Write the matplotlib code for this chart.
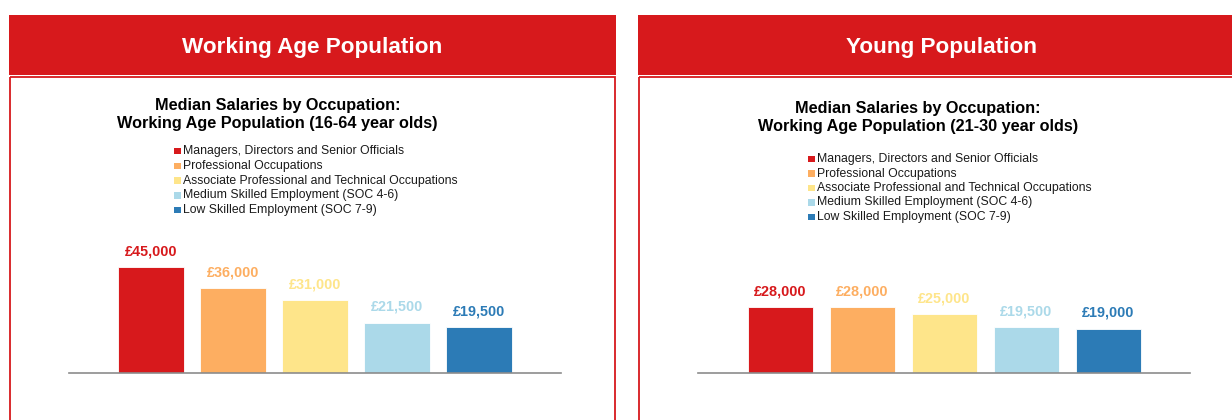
import matplotlib
matplotlib.use("Agg")
import matplotlib.pyplot as plt
from matplotlib.patches import Rectangle

plt.rcParams['font.family'] = ['Liberation Sans', 'DejaVu Sans']

# ---- data ----
categories = [
    "Managers, Directors and Senior Officials",
    "Professional Occupations",
    "Associate Professional and Technical Occupations",
    "Medium Skilled Employment (SOC 4-6)",
    "Low Skilled Employment (SOC 7-9)",
]
colors = ["#D7191C", "#FDAE61", "#FEE58A", "#ABD9E9", "#2C7BB6"]
working_age_values = [45000, 36000, 31000, 21500, 19500]
young_values = [28000, 28000, 25000, 19500, 19000]
panel_headers = ["Working Age Population", "Young Population"]
chart_titles = [
    "Median Salaries by Occupation:\nWorking Age Population (16-64 year olds)",
    "Median Salaries by Occupation:\nWorking Age Population (21-30 year olds)",
]

RED = "#D7191C"
W, H = 1232, 420
fig = plt.figure(figsize=(W / 100, H / 100), dpi=100)

bg = fig.add_axes([0, 0, 1, 1], zorder=0)
bg.set_xlim(0, W)
bg.set_ylim(H, 0)
bg.axis("off")

panels = [
    dict(values=working_age_values, header=panel_headers[0], title=chart_titles[0],
         x0=9.0, title_xy=(277.5, 114.5), leg_xy=(174.3, 151.0), leg_step=14.8),
    dict(values=young_values, header=panel_headers[1], title=chart_titles[1],
         x0=638.3, title_xy=(918.0, 117.5), leg_xy=(808.3, 159.0), leg_step=14.5),
]
panel_w = 607.0
px_per_unit = 2.357 / 1000.0  # pixels per pound
axis_y = 373.3
ax_top = 233.3

for p in panels:
    x0 = p["x0"]
    # header band
    bg.add_patch(Rectangle((x0, 15), panel_w, 59.5, facecolor=RED, edgecolor="none", zorder=1))
    bg.text(x0 + panel_w / 2, 48.0, p["header"], color="white", fontsize=16.2,
            fontweight="bold", ha="center", va="center", zorder=2)
    # body frame
    bg.add_patch(Rectangle((x0 + 0.8, 76.6), panel_w - 1.6, 400, facecolor="none",
                           edgecolor=RED, linewidth=1.3, zorder=1))
    # chart title
    bg.text(p["title_xy"][0], p["title_xy"][1], p["title"], fontsize=11.7,
            fontweight="bold", ha="center", va="center", multialignment="center",
            linespacing=1.32, color="black", zorder=2)
    # legend
    lx, ly = p["leg_xy"]
    for i, (cat, col) in enumerate(zip(categories, colors)):
        yy = ly + i * p["leg_step"]
        bg.add_patch(Rectangle((lx, yy - 3.2), 6.4, 6.4, facecolor=col, edgecolor="none", zorder=2))
        bg.text(lx + 9.0, yy, cat, fontsize=8.8, ha="left", va="center", color="#1a1a1a", zorder=2)

    # bar chart axes
    left_px = x0 + 60.0
    width_px = 492.0
    ax = fig.add_axes([left_px / W, (H - axis_y) / H, width_px / W, (axis_y - ax_top) / H], zorder=3)
    ax.patch.set_alpha(0)
    xs = list(range(len(categories)))
    ax.bar(xs, p["values"], width=0.8, color=colors, edgecolor="white", linewidth=0.6)
    ax.set_xlim(-1, 5)
    ax.set_ylim(0, (axis_y - ax_top) / px_per_unit)
    for s in ("top", "left", "right"):
        ax.spines[s].set_visible(False)
    ax.spines["bottom"].set_color("#8C8C8C")
    ax.spines["bottom"].set_linewidth(1.2)
    ax.set_xticks([])
    ax.set_yticks([])
    for x, v, col in zip(xs, p["values"], colors):
        ax.annotate(f"£{v:,.0f}", (x, v), xytext=(0, 8.6), textcoords="offset points",
                    ha="center", va="baseline", fontsize=10.4, fontweight="bold", color=col)

fig.savefig("out.png", dpi=100)
